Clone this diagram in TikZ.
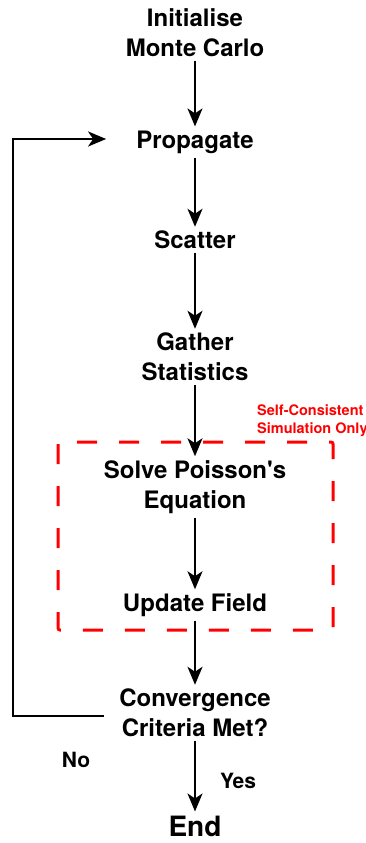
\documentclass[tikz,border=0pt]{standalone}
\usepackage{fontspec}
\setmainfont{TeX Gyre Heros}
\usetikzlibrary{arrows.meta}
\tikzset{
  stage/.style={font=\fontsize{24}{30}\selectfont\bfseries, align=center, inner sep=4pt},
  end stage/.style={stage, font=\fontsize{28}{32}\selectfont\bfseries},
  branch label/.style={font=\fontsize{21}{25}\selectfont\bfseries, inner sep=0pt},
  flow line/.style={line width=2pt, -{Stealth[length=18pt, width=15pt, inset=5pt]}},
  option box/.style={red, line width=3pt, dash pattern=on 20pt off 22pt, rounded corners=2pt},
  note text/.style={red, font=\fontsize{14.5}{18}\selectfont\bfseries, align=left, inner sep=0pt},
}

\begin{document}
\begin{tikzpicture}[x=1pt, y=-1pt]
  \useasboundingbox (0,0) rectangle (366,843);
  % main loop
  \node[stage] (init) at (195,33) {Initialise\\Monte Carlo};
  \node[stage] (prop) at (195,142) {Propagate};
  \node[stage] (scat) at (195,240) {Scatter};
  \node[stage] (gath) at (195,357) {Gather\\Statistics};
  \node[stage] (solve) at (195,487) {Solve Poisson\textquotesingle s\\Equation};
  \node[stage] (upd) at (195,605) {Update Field};
  \node[stage] (conv) at (195,713) {Convergence\\Criteria Met?};
  \node[end stage] (fin) at (195,826) {End};

  \draw[flow line] (init) -- (prop);
  \draw[flow line] (prop) -- (scat);
  \draw[flow line] (scat) -- (gath);
  \draw[flow line] (gath) -- (solve);
  \draw[flow line] (solve) -- (upd);
  \draw[flow line] (upd) -- (conv);
  \draw[flow line] (conv) -- (fin);

  % back to propagate
  \draw[flow line] ([xshift=-11pt, yshift=-3pt]conv.west) -| (13,400) |- ([xshift=-26pt, yshift=3pt]prop.west);

  \node[branch label] (no) at (76,760) {No};
  \node[branch label] (yes) at (238,781) {Yes};

  % self-consistent part
  \draw[option box] (58,442) rectangle (333,630);
  \node[note text, anchor=north west] (note) at (257,404) {Self-Consistent\\Simulation Only};
\end{tikzpicture}
\end{document}
